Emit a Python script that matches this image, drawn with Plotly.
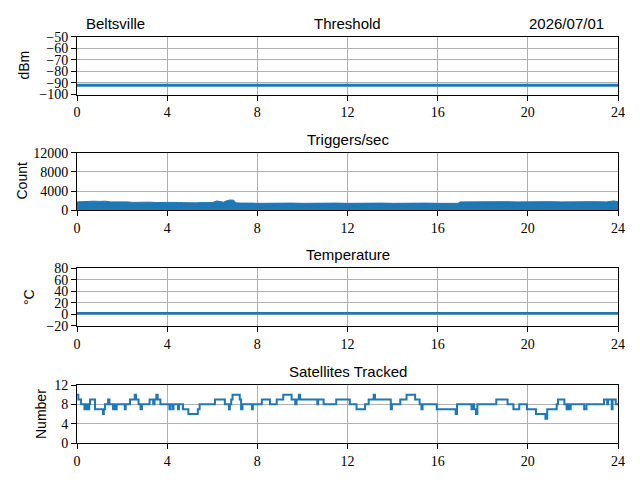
import plotly.graph_objects as go

# ---------------- data ----------------
hours_axis_ticks = [0, 4, 8, 12, 16, 20, 24]

threshold_t = list(range(0, 25))
threshold_v = [-92, -92, -92, -92, -92, -92, -92, -92, -92, -92, -92, -92, -92,
               -92, -92, -92, -92, -92, -92, -92, -92, -92, -92, -92, -92]

triggers_t = [0.0, 0.25, 0.5, 0.75, 1.0, 1.25, 1.5, 1.75, 2.0, 2.25, 2.5, 2.75, 3.0,
              3.25, 3.5, 3.75, 4.0, 4.25, 4.5, 4.75, 5.0, 5.25, 5.5, 5.75, 6.0,
              6.2, 6.35, 6.5, 6.65, 6.8, 6.95, 7.05, 7.25, 7.5, 7.75, 8.0, 8.5, 9.0,
              9.5, 10.0, 10.5, 11.0, 11.5, 12.0, 12.5, 13.0, 13.5, 14.0, 14.5, 15.0,
              15.5, 16.0, 16.5, 16.9, 17.0, 17.5, 18.0, 18.5, 19.0, 19.5, 20.0, 20.5,
              21.0, 21.5, 22.0, 22.5, 23.0, 23.5, 23.8, 24.0]
triggers_v = [1750, 1850, 1800, 1900, 1850, 1900, 1750, 1800, 1700, 1750, 1650, 1700, 1650,
              1700, 1600, 1650, 1600, 1650, 1600, 1550, 1600, 1550, 1600, 1550, 1600,
              1950, 1900, 1700, 2000, 2150, 2100, 1550, 1500, 1550, 1500, 1450, 1500, 1450,
              1500, 1450, 1500, 1450, 1500, 1450, 1500, 1450, 1500, 1450, 1500, 1450,
              1500, 1450, 1500, 1450, 1750, 1800, 1750, 1850, 1800, 1750, 1800, 1750,
              1800, 1750, 1800, 1750, 1800, 1750, 1950, 1800]

temperature_t = list(range(0, 25))
temperature_v = [2, 2, 2, 2, 2, 2, 2, 2, 2, 2, 2, 2, 2,
                 2, 2, 2, 2, 2, 2, 2, 2, 2, 2, 2, 2]

sat_t = [0.00, 0.06, 0.18, 0.33, 0.36, 0.43, 0.46, 0.51, 0.54, 0.58, 0.80, 1.15, 1.19,
         1.24, 1.38, 1.44, 1.60, 1.66, 1.70, 1.76, 2.12, 2.16, 2.35, 2.56, 2.62, 2.73,
         2.82, 2.88, 3.22, 3.38, 3.44, 3.52, 3.58, 3.70, 4.10, 4.14, 4.24, 4.28, 4.48,
         4.52, 4.70, 4.94, 5.36, 5.44, 6.12, 6.56, 6.74, 6.78, 6.84, 6.90, 7.22, 7.28,
         7.34, 7.76, 7.80, 8.20, 8.56, 8.86, 9.15, 9.52, 9.68, 9.74, 9.84, 9.90, 10.66,
         10.70, 10.94, 11.50, 12.10, 12.40, 12.78, 12.94, 13.16, 13.22, 13.92, 13.97,
         14.34, 14.62, 15.00, 15.20, 15.28, 15.33, 15.96, 16.80, 16.86, 17.50, 17.56,
         17.62, 17.70, 17.76, 18.60, 19.10, 19.36, 19.62, 19.96, 20.36, 20.78, 20.86,
         21.28, 21.34, 21.62, 21.72, 21.78, 21.84, 21.90, 22.50, 22.60, 23.38, 23.52,
         23.56, 23.72, 23.76, 23.90, 24.00]
sat_v = [10, 9, 8, 7, 8, 7, 8, 7, 8, 9, 7, 6, 7,
         8, 9, 8, 7, 8, 7, 8, 7, 8, 9, 10, 9, 8,
         7, 8, 9, 8, 9, 10, 9, 8, 7, 8, 7, 8, 7,
         8, 7, 6, 7, 8, 9, 8, 7, 8, 9, 10, 9, 7,
         8, 7, 8, 9, 8, 9, 10, 9, 8, 9, 10, 9, 8,
         9, 8, 9, 8, 7, 8, 9, 10, 9, 7, 8,
         9, 10, 9, 8, 7, 8, 7, 6, 8, 7, 8,
         7, 6, 8, 9, 8, 7, 8, 7, 6, 5, 7,
         8, 9, 8, 7, 8, 7, 8, 7, 8, 9, 8,
         9, 7, 9, 8, 8]

titles = ["Threshold", "Triggers/sec", "Temperature", "Satellites Tracked"]
ylabels = ["dBm", "Count", "°C", "Number"]
yranges = [[-100, -50], [0, 12000], [-20, 80], [0, 12]]
yticks = [[-100, -90, -80, -70, -60, -50],
          [0, 4000, 8000, 12000],
          [-20, 0, 20, 40, 60, 80],
          [0, 4, 8, 12]]
station = "Beltsville"
date_label = "2026/07/01"

# ---------------- figure ----------------
W, H = 640, 480
BLUE = "#1f77b4"
x_dom = [77 / W, 618 / W]
rows_px = [(36.7, 94.5), (152.7, 210.3), (268.3, 325.8), (385.0, 443.0)]
y_doms = [[1 - b / H, 1 - t / H] for t, b in rows_px]

fig = go.Figure()

fig.add_trace(go.Scatter(x=threshold_t, y=threshold_v, mode="lines",
                         line=dict(color=BLUE, width=3), xaxis="x", yaxis="y"))
fig.add_trace(go.Scatter(x=triggers_t, y=triggers_v, mode="lines", fill="tozeroy",
                         fillcolor=BLUE, line=dict(color=BLUE, width=1),
                         xaxis="x2", yaxis="y2"))
fig.add_trace(go.Scatter(x=temperature_t, y=temperature_v, mode="lines",
                         line=dict(color=BLUE, width=2.5), xaxis="x3", yaxis="y3"))
fig.add_trace(go.Scatter(x=sat_t, y=sat_v, mode="lines", line_shape="hv",
                         line=dict(color=BLUE, width=2), xaxis="x4", yaxis="y4"))

tick_font = dict(family="Liberation Serif, DejaVu Serif, serif", size=14, color="black")
label_font = dict(family="Liberation Sans, Arial, sans-serif", size=14, color="black")
title_font = dict(family="Liberation Sans, Arial, sans-serif", size=15, color="black")

def fmt(v):
    return ("\u2212" + str(-v)) if v < 0 else str(v)

layout = dict(width=W, height=H, autosize=False,
              margin=dict(l=0, r=0, t=0, b=0, autoexpand=False),
              paper_bgcolor="white", plot_bgcolor="white", showlegend=False)

for i in range(4):
    sfx = "" if i == 0 else str(i + 1)
    layout["xaxis" + sfx] = dict(
        domain=x_dom, range=[0, 24], tickvals=hours_axis_ticks,
        ticktext=[str(v) for v in hours_axis_ticks],
        anchor="y" + sfx, showline=True, mirror=True, linecolor="black", linewidth=1.1,
        ticks="outside", ticklen=5, tickwidth=1.1, tickcolor="black",
        showgrid=True, gridcolor="#b0b0b0", gridwidth=1, zeroline=False,
        tickfont=tick_font, fixedrange=True, automargin=False)
    layout["yaxis" + sfx] = dict(
        domain=y_doms[i], range=yranges[i], tickvals=yticks[i],
        ticktext=[fmt(v) for v in yticks[i]],
        anchor="x" + sfx, showline=True, mirror=True, linecolor="black", linewidth=1.1,
        ticks="outside", ticklen=5, tickwidth=1.1, tickcolor="black",
        showgrid=True, gridcolor="#b0b0b0", gridwidth=1, zeroline=False,
        tickfont=tick_font, fixedrange=True, automargin=False)

annotations = []
ylabel_x = [24, 21, 29, 41]
for i in range(4):
    top_px = rows_px[i][0]
    annotations.append(dict(text=titles[i], x=(x_dom[0] + x_dom[1]) / 2,
                            y=1 - top_px / H, xref="paper", yref="paper",
                            xanchor="center", yanchor="bottom", yshift=3,
                            showarrow=False, font=title_font))
    mid = (rows_px[i][0] + rows_px[i][1]) / 2
    annotations.append(dict(text=ylabels[i], x=ylabel_x[i] / W, y=1 - mid / H,
                            xref="paper", yref="paper", xanchor="center",
                            yanchor="middle", textangle=-90, showarrow=False,
                            font=label_font))
annotations.append(dict(text=station, x=84 / W, y=1 - rows_px[0][0] / H,
                        xref="paper", yref="paper", xanchor="left", yanchor="bottom",
                        yshift=3, showarrow=False, font=title_font))
annotations.append(dict(text=date_label, x=606 / W, y=1 - rows_px[0][0] / H,
                        xref="paper", yref="paper", xanchor="right", yanchor="bottom",
                        yshift=3, showarrow=False, font=title_font))
layout["annotations"] = annotations

fig.update_layout(**layout)
fig.write_html("out.html", config={"displayModeBar": False},
               post_script="document.body.style.margin='0';document.body.style.overflow='hidden';")
